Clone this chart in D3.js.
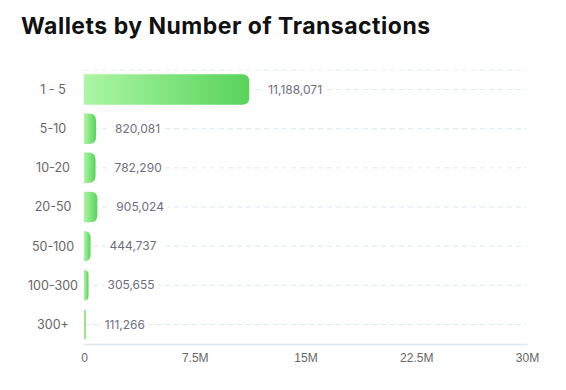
<!DOCTYPE html>
<html lang="en">
<head>
  <meta charset="UTF-8">
  <title>Wallets by Number of Transactions</title>
  <script src="https://d3js.org/d3.v7.min.js"></script>
  <style>
    body {
      margin: 0;
      background: #fff;
      font-family: Inter, "Noto Sans", Arial, sans-serif;
    }
    .title {
      font-size: 23px;
      font-weight: 700;
      letter-spacing: 0.5px;
      fill: #111;
    }
    .cat {
      font-size: 12.5px;
      fill: #666;
    }
    .tick text {
      font-size: 12px;
      fill: #666;
    }
    .val {
      font-size: 12px;
      fill: #6e6e7e;
    }
  </style>
</head>
<body>
  <div id="chart"></div>
  <script>
    const categories = ["1 - 5", "5-10", "10-20", "20-50", "50-100", "100-300", "300+"];
    const wallets = [11188071, 820081, 782290, 905024, 444737, 305655, 111266];
    const xTicks = [0, 7500000, 15000000, 22500000, 30000000];
    const xTickLabels = ["0", "7.5M", "15M", "22.5M", "30M"];

    const width = 566;
    const height = 390;
    const margin = {top: 70, right: 39, bottom: 46, left: 84};

    const data = categories.map((c, i) => ({cat: c, value: wallets[i]}));

    const svg = d3.select("#chart")
      .append("svg")
      .attr("width", width)
      .attr("height", height);

    const grad = svg.append("defs")
      .append("linearGradient")
      .attr("id", "barGrad")
      .attr("x1", "0%").attr("x2", "100%")
      .attr("y1", "0%").attr("y2", "0%");
    grad.append("stop").attr("offset", "0%").attr("stop-color", "#acf6a4");
    grad.append("stop").attr("offset", "100%").attr("stop-color", "#58d35a");

    svg.append("text")
      .attr("class", "title")
      .attr("x", 21)
      .attr("y", 34)
      .text("Wallets by Number of Transactions");

    const x = d3.scaleLinear()
      .domain([0, 30000000])
      .range([margin.left, width - margin.right]);

    const y = d3.scaleBand()
      .domain(categories)
      .range([margin.top, height - margin.bottom])
      .paddingInner(0.22)
      .paddingOuter(0.11);

    // dashed grid: top edge + one through every row
    const grid = svg.append("g");
    grid.append("line")
      .attr("x1", x(0)).attr("x2", x(30000000))
      .attr("y1", margin.top).attr("y2", margin.top)
      .attr("stroke", "#e3eef3")
      .attr("stroke-dasharray", "5,4");
    grid.selectAll(".row")
      .data(categories)
      .join("line")
        .attr("class", "row")
        .attr("x1", x(0)).attr("x2", x(30000000))
        .attr("y1", d => y(d) + y.bandwidth() / 2)
        .attr("y2", d => y(d) + y.bandwidth() / 2)
        .attr("stroke", "#dbe9ef")
        .attr("stroke-dasharray", "5,4");

    // bars, only the right side rounded
    function barPath(d) {
      const x0 = x(0), x1 = x(d.value);
      const y0 = y(d.cat), h = y.bandwidth();
      const w = x1 - x0;
      const r = Math.min(7, w, h / 2);
      return `M${x0},${y0}H${x1 - r}Q${x1},${y0} ${x1},${y0 + r}` +
        `V${y0 + h - r}Q${x1},${y0 + h} ${x1 - r},${y0 + h}H${x0}Z`;
    }

    svg.append("g")
      .selectAll("path")
      .data(data)
      .join("path")
        .attr("d", barPath)
        .attr("fill", "url(#barGrad)");

    // value labels with a white patch over the grid line
    const labels = svg.append("g")
      .selectAll("g")
      .data(data)
      .join("g")
        .attr("transform", d => `translate(${x(d.value) + 19},${y(d.cat) + y.bandwidth() / 2})`);

    labels.append("text")
      .attr("class", "val")
      .attr("dy", "0.35em")
      .text(d => d3.format(",")(d.value));

    labels.each(function() {
      const g = d3.select(this);
      const b = g.select("text").node().getBBox();
      g.insert("rect", "text")
        .attr("x", b.x - 4)
        .attr("y", b.y)
        .attr("width", b.width + 8)
        .attr("height", b.height)
        .attr("fill", "#fff");
    });

    // category labels, centred in the left gutter
    svg.append("g")
      .selectAll("text")
      .data(categories)
      .join("text")
        .attr("class", "cat")
        .attr("x", 53)
        .attr("y", d => y(d) + y.bandwidth() / 2)
        .attr("dy", "0.35em")
        .attr("text-anchor", "middle")
        .text(d => d);

    // bottom axis
    svg.append("g")
      .attr("transform", `translate(0,${height - margin.bottom})`)
      .call(d3.axisBottom(x)
        .tickValues(xTicks)
        .tickFormat((d, i) => xTickLabels[i])
        .tickSize(0)
        .tickPadding(9))
      .call(g => g.select(".domain").attr("stroke", "#d9e8ef").attr("stroke-width", 1.5))
      .call(g => g.selectAll(".tick text").attr("font-family", null).attr("font-size", null));
  </script>
</body>
</html>
